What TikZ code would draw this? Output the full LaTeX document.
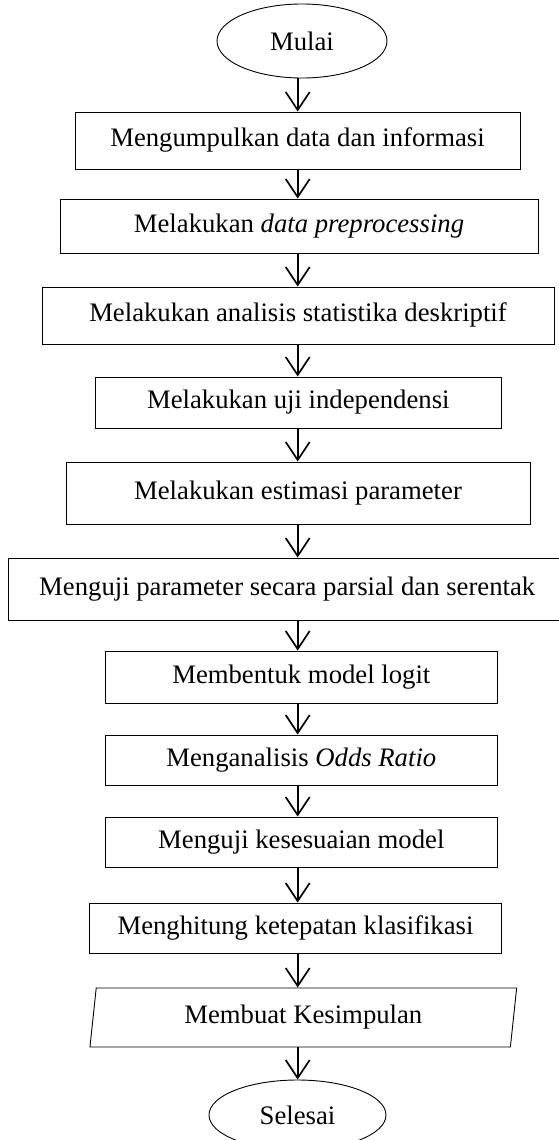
\documentclass[tikz,border=0pt]{standalone}
\usepackage{fontspec}
\setmainfont{Liberation Serif}
\usetikzlibrary{arrows.meta,shapes.geometric,calc}
\tikzstyle{terminal} = [ellipse, draw=black, line width=0.9pt, inner sep=0pt, font=\fontsize{26.7}{32}\selectfont]
\tikzstyle{proses} = [rectangle, draw=black, line width=0.9pt, inner sep=0pt, text height=18.7pt, text depth=5.9pt, font=\fontsize{26.7}{32}\selectfont]
\tikzstyle{io} = [trapezium, trapezium left angle=75.7, trapezium right angle=104.3, trapezium stretches body, draw=black, line width=0.9pt, inner sep=0pt, text height=18.7pt, text depth=5.9pt, font=\fontsize{26.7}{32}\selectfont]
\tikzstyle{arrow} = [line width=1.7pt, -{Straight Barb[length=18pt,width=24pt]}]

\begin{document}
\begin{tikzpicture}[x=1pt,y=-1pt]
\useasboundingbox (0,0) rectangle (559,1140);
\coordinate (sumbu) at (297.7,0);
\node (mulai) at (302,41) [terminal, minimum width=170pt, minimum height=74pt] {Mulai};
\node (b1) at (297.5,140.5) [proses, minimum width=445pt, minimum height=57pt] {Mengumpulkan data dan informasi};
\node (b2) at (299,226) [proses, minimum width=478pt, minimum height=54pt] {Melakukan \textit{data preprocessing}};
\node (b3) at (298,315.5) [proses, minimum width=512pt, minimum height=57pt] {Melakukan analisis statistika deskriptif};
\node (b4) at (298.3,402.5) [proses, minimum width=406.7pt, minimum height=51pt] {Melakukan uji independensi};
\node (b5) at (298,493) [proses, minimum width=464pt, minimum height=62pt] {Melakukan estimasi parameter};
\node (b6) at (287.2,589) [proses, minimum width=557.7pt, minimum height=62pt] {Menguji parameter secara parsial dan serentak};
\node (b7) at (301.3,677) [proses, minimum width=392.7pt, minimum height=52pt] {Membentuk model logit};
\node (b8) at (301.3,760) [proses, minimum width=392.7pt, minimum height=50pt] {Menganalisis \textit{Odds Ratio}};
\node (b9) at (301.3,842) [proses, minimum width=392.7pt, minimum height=50pt] {Menguji kesesuaian model};
\node (b10) at (295.5,928) [proses, minimum width=412.4pt, minimum height=50pt] {Menghitung ketepatan klasifikasi};
\node (kesimpulan) at (303.3,1017.5) [io, minimum width=426.7pt, minimum height=59pt] {Membuat Kesimpulan};
\node (selesai) at (297.5,1115) [terminal, minimum width=177pt, minimum height=70pt] {Selesai};
\draw[arrow] (mulai.south -| sumbu)--(b1.north -| sumbu);
\draw[arrow] (b1.south -| sumbu)--(b2.north -| sumbu);
\draw[arrow] (b2.south -| sumbu)--(b3.north -| sumbu);
\draw[arrow] (b3.south -| sumbu)--(b4.north -| sumbu);
\draw[arrow] (b4.south -| sumbu)--(b5.north -| sumbu);
\draw[arrow] (b5.south -| sumbu)--(b6.north -| sumbu);
\draw[arrow] (b6.south -| sumbu)--(b7.north -| sumbu);
\draw[arrow] (b7.south -| sumbu)--(b8.north -| sumbu);
\draw[arrow] (b8.south -| sumbu)--(b9.north -| sumbu);
\draw[arrow] (b9.south -| sumbu)--(b10.north -| sumbu);
\draw[arrow] (b10.south -| sumbu)--(kesimpulan.north -| sumbu);
\draw[arrow] (kesimpulan.south -| sumbu)--(selesai.north -| sumbu);
\end{tikzpicture}
\end{document}
